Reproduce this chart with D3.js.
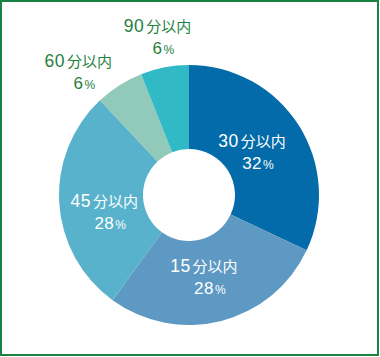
<!DOCTYPE html>
<html>
<head>
<meta charset="utf-8">
<script src="https://cdn.jsdelivr.net/npm/d3@7"></script>
<style>
  html, body { margin: 0; padding: 0; background: #fff; }
  svg { display: block; }
</style>
</head>
<body>
<div id="chart"></div>
<script>
// commute time share
const categories = ["30分以内", "15分以内", "45分以内", "60分以内", "90分以内"];
const values = [32, 28, 28, 6, 6];
const sliceColors = ["#036ba9", "#5e99c3", "#58b2cb", "#91c9bb", "#31b9c5"];

const w = 380, h = 357;
const cx = 189, cy = 195;
const outerR = 130, innerR = 46;
var green = "#1f7f3e";
var digitFont = "'Liberation Sans', Arial, sans-serif";
var cjkFont = "'Noto Sans CJK JP', sans-serif";

let svg = d3.select("#chart").append("svg").attr("width", w).attr("height", h);

svg.append("rect")
    .attr("x", 1).attr("y", 1)
    .attr("width", w - 3).attr("height", h - 3)
    .attr("fill", "white")
    .attr("stroke", "#1a8240")
    .attr("stroke-width", 2);

let data = categories.map((c, i) => ({name: c, value: values[i], color: sliceColors[i]}));

let pie = d3.pie().sort(null).value(d => d.value);
let arc = d3.arc().innerRadius(innerR).outerRadius(outerR);
let arcs = pie(data);

let g = svg.append("g").attr("transform", "translate(" + cx + "," + cy + ")");

g.selectAll("path").data(arcs).enter().append("path")
    .attr("d", arc)
    .attr("fill", d => d.data.color);

// small slices get their labels outside the ring
let inLabel = d3.arc().innerRadius(84).outerRadius(84);
let outLabel = d3.arc().innerRadius(158).outerRadius(158);
var nudge = {"30分以内": [-6, 7], "15分以内": [-4, 6], "45分以内": [1, 17], "60分以内": [-24, 15], "90分以内": [0, 2]};

arcs.forEach(function(d) {
    let small = d.data.value < 10;
    let c = (small ? outLabel : inLabel).centroid(d);
    let n = nudge[d.data.name] || [0, 0];
    let x = c[0] + n[0], y = c[1] + n[1];
    let fill = small ? green : "white";

    let t1 = g.append("text")
        .attr("x", x - 2).attr("y", y - 10)
        .attr("text-anchor", "middle")
        .attr("fill", fill);
    let m = d.data.name.match(/^(\d+)(.*)$/);
    t1.append("tspan").attr("font-family", digitFont).attr("font-size", "17.5px")
        .attr("letter-spacing", "0.5px").text(m[1]);
    t1.append("tspan").attr("font-family", cjkFont).attr("font-size", "15px")
        .attr("dx", 2).text(m[2]);

    let t2 = g.append("text")
        .attr("x", x + 4).attr("y", y + 12)
        .attr("text-anchor", "middle")
        .attr("fill", fill);
    t2.append("tspan").attr("font-family", digitFont).attr("font-size", "17px")
        .attr("letter-spacing", "0.5px").text(d.data.value);
    t2.append("tspan").attr("font-family", digitFont).attr("font-size", "12px").attr("dx", 1).text("%");
});
</script>
</body>
</html>
